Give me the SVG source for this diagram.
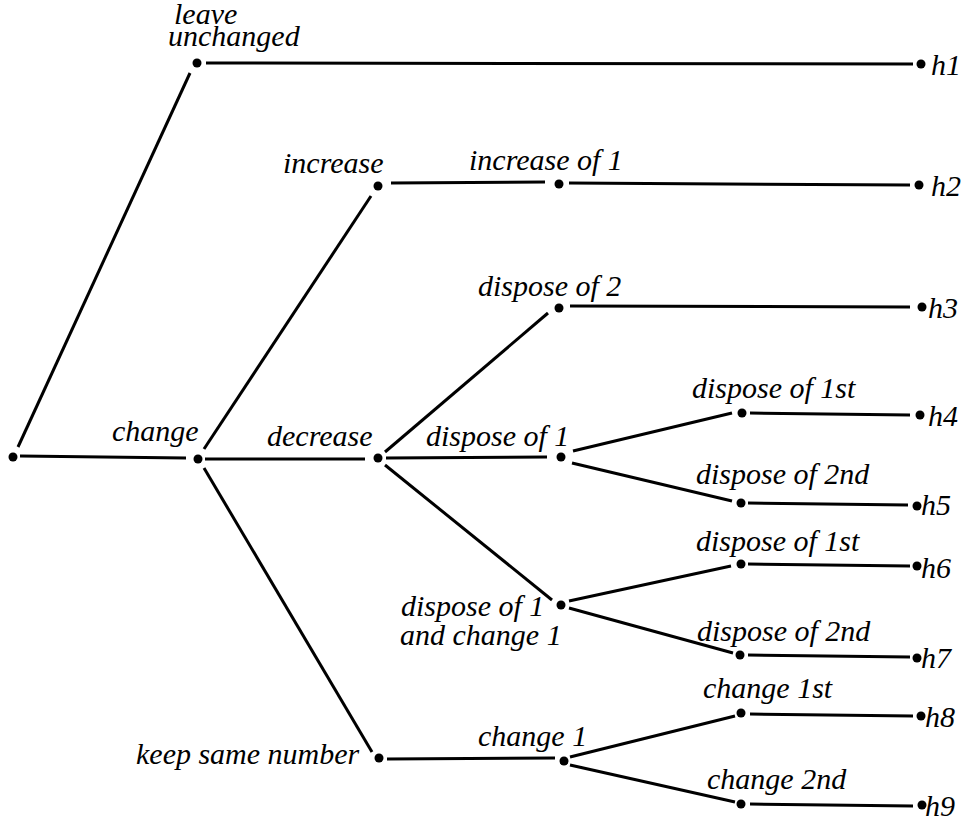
<svg xmlns="http://www.w3.org/2000/svg" width="963" height="825" viewBox="0 0 963 825">
<style>
.e{stroke:#000;stroke-width:3;fill:none}
.d{fill:#000}
</style>
<rect width="963" height="825" fill="#fff"/>
<g id="connectors">
<line class="e" x1="18" y1="447" x2="190" y2="73"/>
<line class="e" x1="206" y1="63" x2="913" y2="64"/>
<line class="e" x1="20" y1="456" x2="186" y2="458"/>
<line class="e" x1="204" y1="449" x2="371" y2="196"/>
<line class="e" x1="391" y1="183" x2="545" y2="182"/>
<line class="e" x1="569" y1="183" x2="910" y2="185"/>
<line class="e" x1="205" y1="459" x2="365" y2="459"/>
<line class="e" x1="204" y1="468" x2="372" y2="752"/>
<line class="e" x1="385" y1="452" x2="548" y2="313"/>
<line class="e" x1="386" y1="458" x2="547" y2="457"/>
<line class="e" x1="385" y1="465" x2="552" y2="600"/>
<line class="e" x1="570" y1="306" x2="910" y2="307"/>
<line class="e" x1="573" y1="451" x2="732" y2="413"/>
<line class="e" x1="572" y1="463" x2="732" y2="501"/>
<line class="e" x1="750" y1="413" x2="910" y2="415"/>
<line class="e" x1="748" y1="503" x2="908" y2="505"/>
<line class="e" x1="569" y1="601" x2="731" y2="566"/>
<line class="e" x1="569" y1="608" x2="733" y2="653"/>
<line class="e" x1="748" y1="564" x2="910" y2="566"/>
<line class="e" x1="748" y1="655" x2="910" y2="657"/>
<line class="e" x1="387" y1="759" x2="555" y2="758"/>
<line class="e" x1="570" y1="757" x2="735" y2="716"/>
<line class="e" x1="570" y1="765" x2="735" y2="802"/>
<line class="e" x1="750" y1="714" x2="913" y2="716"/>
<line class="e" x1="750" y1="804" x2="913" y2="806"/>
</g>
<g id="root"><circle class="d" cx="13" cy="457" r="4.5"/></g>
<g id="leave"><circle class="d" cx="197" cy="63" r="4.5"/><text x="174" y="24" font-family="Liberation Serif, serif" font-style="italic" font-size="30">leave</text><text x="168" y="46" font-family="Liberation Serif, serif" font-style="italic" font-size="30">unchanged</text></g>
<g id="h1"><circle class="d" cx="921" cy="64" r="4.5"/><text x="931" y="75" font-family="Liberation Serif, serif" font-style="italic" font-size="30">h1</text></g>
<g id="change"><circle class="d" cx="198" cy="459" r="4.5"/><text x="112" y="441" font-family="Liberation Serif, serif" font-style="italic" font-size="30">change</text></g>
<g id="increase"><circle class="d" cx="378" cy="186" r="4.5"/><text x="283" y="173" font-family="Liberation Serif, serif" font-style="italic" font-size="30">increase</text></g>
<g id="increase1"><circle class="d" cx="559" cy="184" r="4.5"/><text x="469" y="170" font-family="Liberation Serif, serif" font-style="italic" font-size="30">increase of 1</text></g>
<g id="h2"><circle class="d" cx="919" cy="185" r="4.5"/><text x="931" y="196" font-family="Liberation Serif, serif" font-style="italic" font-size="30">h2</text></g>
<g id="decrease"><circle class="d" cx="378" cy="458" r="4.5"/><text x="267" y="446" font-family="Liberation Serif, serif" font-style="italic" font-size="30">decrease</text></g>
<g id="dispose2"><circle class="d" cx="559" cy="308" r="4.5"/><text x="478" y="296" font-family="Liberation Serif, serif" font-style="italic" font-size="30">dispose of 2</text></g>
<g id="h3"><circle class="d" cx="922" cy="307" r="4.5"/><text x="928" y="318" font-family="Liberation Serif, serif" font-style="italic" font-size="30">h3</text></g>
<g id="dispose1"><circle class="d" cx="561" cy="457" r="4.5"/><text x="426" y="446" font-family="Liberation Serif, serif" font-style="italic" font-size="30">dispose of 1</text></g>
<g id="dispose1st_a"><circle class="d" cx="742" cy="413" r="4.5"/><text x="692" y="398" font-family="Liberation Serif, serif" font-style="italic" font-size="30">dispose of 1st</text></g>
<g id="h4"><circle class="d" cx="920" cy="415" r="4.5"/><text x="928" y="426" font-family="Liberation Serif, serif" font-style="italic" font-size="30">h4</text></g>
<g id="dispose2nd_a"><circle class="d" cx="741" cy="503" r="4.5"/><text x="696" y="484" font-family="Liberation Serif, serif" font-style="italic" font-size="30">dispose of 2nd</text></g>
<g id="h5"><circle class="d" cx="917" cy="506" r="4.5"/><text x="921" y="515" font-family="Liberation Serif, serif" font-style="italic" font-size="30">h5</text></g>
<g id="dispose1change1"><circle class="d" cx="561" cy="605" r="4.5"/><text x="401" y="616" font-family="Liberation Serif, serif" font-style="italic" font-size="30">dispose of 1</text><text x="400" y="645" font-family="Liberation Serif, serif" font-style="italic" font-size="30">and change 1</text></g>
<g id="dispose1st_b"><circle class="d" cx="741" cy="564" r="4.5"/><text x="696" y="551" font-family="Liberation Serif, serif" font-style="italic" font-size="30">dispose of 1st</text></g>
<g id="h6"><circle class="d" cx="917" cy="566" r="4.5"/><text x="921" y="578" font-family="Liberation Serif, serif" font-style="italic" font-size="30">h6</text></g>
<g id="dispose2nd_b"><circle class="d" cx="740" cy="655" r="4.5"/><text x="697" y="641" font-family="Liberation Serif, serif" font-style="italic" font-size="30">dispose of 2nd</text></g>
<g id="h7"><circle class="d" cx="917" cy="658" r="4.5"/><text x="921" y="668" font-family="Liberation Serif, serif" font-style="italic" font-size="30">h7</text></g>
<g id="keep"><circle class="d" cx="379" cy="758" r="4.5"/><text x="136" y="764" font-family="Liberation Serif, serif" font-style="italic" font-size="30">keep same number</text></g>
<g id="change1"><circle class="d" cx="564" cy="761" r="4.5"/><text x="478" y="746" font-family="Liberation Serif, serif" font-style="italic" font-size="30">change 1</text></g>
<g id="change1st"><circle class="d" cx="741" cy="713" r="4.5"/><text x="703" y="698" font-family="Liberation Serif, serif" font-style="italic" font-size="30">change 1st</text></g>
<g id="h8"><circle class="d" cx="921" cy="716" r="4.5"/><text x="925" y="727" font-family="Liberation Serif, serif" font-style="italic" font-size="30">h8</text></g>
<g id="change2nd"><circle class="d" cx="741" cy="804" r="4.5"/><text x="707" y="789" font-family="Liberation Serif, serif" font-style="italic" font-size="30">change 2nd</text></g>
<g id="h9"><circle class="d" cx="922" cy="805" r="4.5"/><text x="925" y="816" font-family="Liberation Serif, serif" font-style="italic" font-size="30">h9</text></g>
</svg>
